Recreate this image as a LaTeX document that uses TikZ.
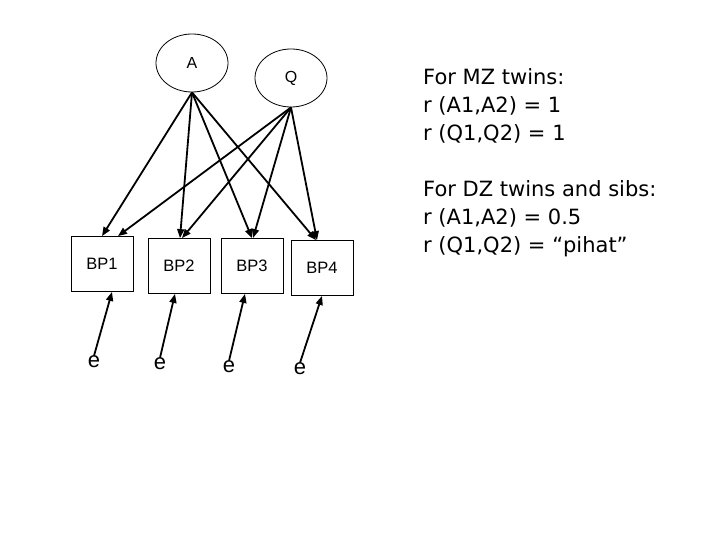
\documentclass[tikz,border=0pt]{standalone}
\usepackage{fontspec}
\setmainfont{Liberation Sans}
\newfontfamily\notefont{DejaVu Sans}
\usetikzlibrary{arrows.meta,calc,shapes.geometric}
\definecolor{ink}{HTML}{000000}
\tikzset{
  latent/.style={ellipse,draw=ink,line width=0.8pt,minimum width=72pt,minimum height=58pt,inner sep=0pt,font=\fontsize{16}{18}\selectfont},
  measure/.style={rectangle,draw=ink,line width=0.8pt,minimum width=62pt,minimum height=55pt,inner sep=0pt,font=\fontsize{16.5}{18}\selectfont},
  resid/.style={inner sep=0pt,font=\fontsize{22}{24}\selectfont},
  path/.style={-{Triangle[length=9pt,width=7pt]},line width=1.8pt,draw=ink},
  note/.style={anchor=north west,align=left,inner sep=0pt,font=\notefont\fontsize{21}{28}\selectfont}
}
\begin{document}
\begin{tikzpicture}[x=1pt,y=-1pt]
  \useasboundingbox (0,0) rectangle (720,540);

  % latent factors
  \node[latent] (A) at (192,63) {A};
  \node[latent] (Q) at (291,78) {Q};

  % measured phenotypes
  \node[measure] (bp1) at (102,264) {BP1};
  \node[measure] (bp2) at (179,266) {BP2};
  \node[measure] (bp3) at (252,266) {BP3};
  \node[measure] (bp4) at (322,268) {BP4};

  % residuals
  \node[resid] (e1) at (94,362) {e};
  \node[resid] (e2) at (160,364) {e};
  \node[resid] (e3) at (229,367) {e};
  \node[resid] (e4) at (300,369) {e};

  % loadings
  \foreach \i/\da/\dq in {1/0/16,2/1/3,3/0/1,4/-6/-5} {
    \draw[path] (A.south) -- ([xshift=\da pt]bp\i.north);
    \draw[path] (Q.south) -- ([xshift=\dq pt]bp\i.north);
  }
  \foreach \i/\de in {1/10,2/-4,3/-7,4/0}
    \draw[path] (e\i.north) -- ([xshift=\de pt]bp\i.south);

  % correlations
  \node[note] (mz) at (423,68) {For MZ twins:\\r (A1,A2) = 1\\r (Q1,Q2) = 1};
  \node[note] (dz) at (423,180) {For DZ twins and sibs:\\r (A1,A2) = 0.5\\r (Q1,Q2) = “pihat”};
\end{tikzpicture}
\end{document}
